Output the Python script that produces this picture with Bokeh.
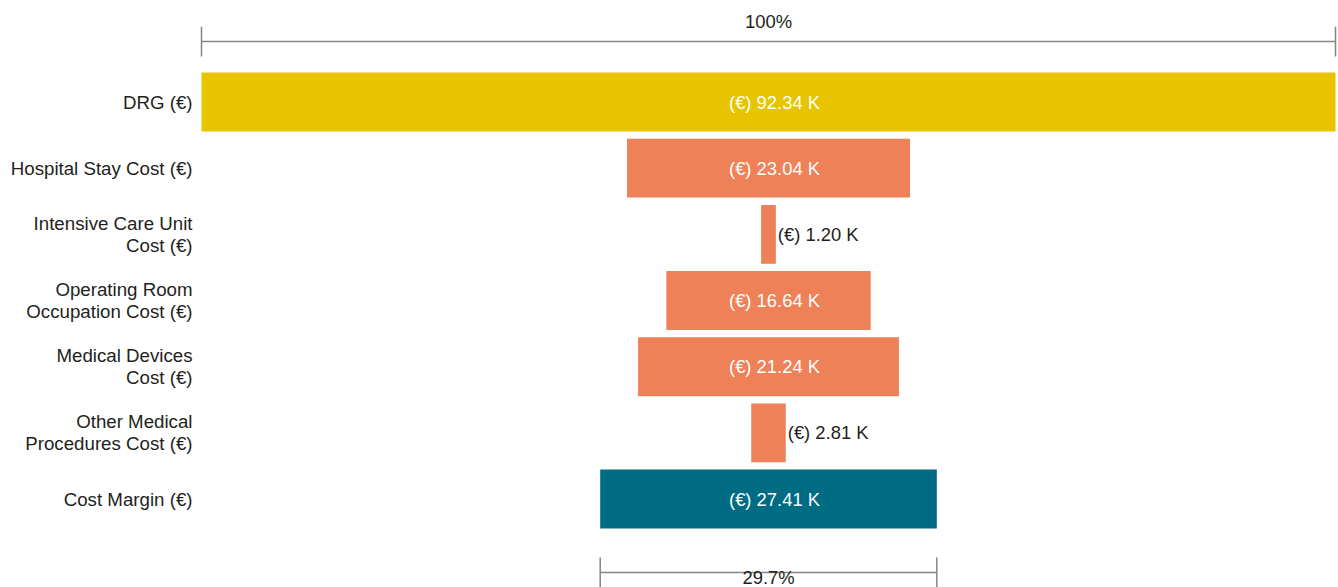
from bokeh.plotting import figure
from bokeh.models import Range1d, ColumnDataSource
from bokeh.core.properties import value
from bokeh.embed import file_html
from bokeh.resources import INLINE

categories = ["DRG (€)", "Hospital Stay Cost (€)", "Intensive Care Unit\nCost (€)",
              "Operating Room\nOccupation Cost (€)", "Medical Devices\nCost (€)",
              "Other Medical\nProcedures Cost (€)", "Cost Margin (€)"]
values = [92.34, 23.04, 1.20, 16.64, 21.24, 2.81, 27.41]
kinds = ["revenue", "cost", "cost", "cost", "cost", "cost", "margin"]

palette = {"revenue": "#E8C400", "cost": "#EE8157", "margin": "#006C84"}
FONT = "Liberation Sans"
TXT = "#231F20"
LINE = "#8A8380"

W, H = 1338, 587
left_px, right_px = 201, 1335
scale = (right_px - left_px) / values[0]
center_px = (left_px + right_px) / 2
row0_px, row_step = 101.5, 66.17
y_bottom = (H - row0_px) / row_step

p = figure(width=W, height=H, output_backend="svg", toolbar_location=None,
           x_range=Range1d(-center_px / scale, (W - center_px) / scale),
           y_range=Range1d(y_bottom, -row0_px / row_step),
           min_border=0)
p.axis.visible = False
p.grid.visible = False
p.outline_line_color = None
p.background_fill_color = "white"
p.border_fill_color = "white"

ys = list(range(len(values)))
src = ColumnDataSource(dict(
    y=ys, left=[-v / 2 for v in values], right=[v / 2 for v in values],
    color=[palette[k] for k in kinds],
))
p.hbar(y="y", left="left", right="right", height=0.89, fill_color="color",
       line_color=None, source=src)

# category labels
p.text(x=[-values[0] / 2] * len(ys), y=ys, text=categories, x_offset=-9,
       text_align="right", text_baseline="middle", text_font=value(FONT),
       text_font_size="18.7px", text_color=TXT, text_line_height=1.06)

# value labels
inside = [i for i, v in enumerate(values) if v > 10]
outside = [i for i, v in enumerate(values) if v <= 10]
p.text(x=[0] * len(inside), y=[ys[i] for i in inside],
       text=["(€) %.2f K" % values[i] for i in inside], x_offset=6,
       text_align="center", text_baseline="middle", text_font=value(FONT),
       text_font_size="18.4px", text_color="white")
p.text(x=[values[i] / 2 for i in outside], y=[ys[i] for i in outside],
       text=["(€) %.2f K" % values[i] for i in outside], x_offset=2,
       text_align="left", text_baseline="middle", text_font=value(FONT),
       text_font_size="18.4px", text_color=TXT)

# brackets
def bracket(v, yline, ytext, baseline):
    p.segment(x0=[-v / 2], x1=[v / 2], y0=[yline], y1=[yline], line_color=LINE, line_width=1.5)
    p.segment(x0=[-v / 2, v / 2], x1=[-v / 2, v / 2], y0=[yline - 0.225] * 2,
              y1=[yline + 0.225] * 2, line_color=LINE, line_width=1.5)
    pct = v / values[0] * 100
    label = "100%" if v == values[0] else "%.1f%%" % pct
    p.text(x=[0], y=[ytext], text=[label],
           text_align="center", text_baseline=baseline, text_font=value(FONT),
           text_font_size="18.4px", text_color=TXT)

bracket(values[0], -0.914, -1.217, "middle")
bracket(values[-1], 7.11, y_bottom, "bottom")

open("out.html", "w").write(file_html(p, INLINE))
